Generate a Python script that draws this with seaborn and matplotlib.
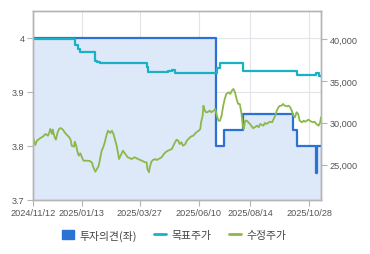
import numpy as np
import pandas as pd
import matplotlib
matplotlib.use('Agg')
import matplotlib.pyplot as plt
import matplotlib.dates as mdates
from matplotlib.patches import Patch
from matplotlib.lines import Line2D
from matplotlib.ticker import FuncFormatter
import seaborn as sns

start_date = '2024-11-12'
end_day = 365

opinion_days = [0, 232, 242, 266, 329, 335, 359, 360, 365]
opinion_vals = [4.0, 3.8, 3.83, 3.86, 3.83, 3.8, 3.75, 3.8, 3.8]

target_days = [0, 53, 57, 60, 79, 81, 85, 144, 146, 171, 176, 180, 233, 237, 266, 334, 359, 363, 365]
target_vals = [40000, 39320, 38800, 38480, 37410, 37220, 37100, 36620, 36020, 36140, 36340, 35900,
               36500, 37100, 36220, 35700, 35900, 35620, 35620]

price_days = [0, 3, 5, 9, 13, 16, 19, 21, 22, 24, 25, 27, 29, 31, 33, 35, 38, 40, 43, 46, 48, 49, 52, 53,
              55, 56, 58, 60, 62, 64, 68, 72, 75, 76, 79, 81, 83, 85, 87, 89, 91, 93, 95, 98, 100, 102,
              104, 106, 108, 109, 111, 114, 117, 120, 123, 125, 129, 133, 138, 142, 144, 145, 147, 148,
              150, 152, 155, 157, 159, 161, 163, 165, 167, 169, 171, 176, 178, 180, 182, 184, 186, 188,
              190, 193, 195, 197, 199, 201, 203, 205, 207, 210, 212, 213, 215, 216, 217, 219, 221, 224,
              226, 229, 231, 233, 235, 237, 239, 241, 243, 245, 248, 250, 252, 254, 256, 258, 260, 262,
              264, 266, 267, 269, 271, 273, 275, 279, 281, 284, 286, 288, 292, 294, 296, 300, 303, 305,
              307, 309, 311, 313, 315, 317, 319, 322, 324, 326, 328, 330, 332, 334, 336, 338, 341, 343,
              345, 347, 349, 351, 353, 355, 357, 359, 362, 364, 365]
price_vals = [28270, 27350, 27870, 28150, 28390, 28670, 28460, 28940, 29260, 28670, 29180, 28390, 27990,
              28790, 29260, 29380, 29180, 28870, 28550, 28270, 27870, 27270, 27150, 27750, 27200, 26670,
              26080, 26360, 25890, 25480, 25480, 25450, 25210, 24810, 24170, 24490, 24810, 25680, 26670,
              27080, 27680, 28460, 29060, 28790, 29060, 28670, 27990, 27270, 26280, 25680, 26080, 26670,
              26280, 25890, 25770, 25680, 25890, 25680, 25480, 25290, 25290, 24490, 24100, 24690, 25360,
              25560, 25680, 25560, 25680, 25770, 25890, 26160, 26400, 26560, 26670, 26880, 27270, 27680,
              27990, 27870, 27470, 27680, 27270, 27470, 27870, 28070, 28270, 28390, 28460, 28670, 28870,
              29060, 29260, 30060, 30850, 32040, 31650, 31260, 31260, 31450, 31260, 31450, 31650, 30850,
              30250, 30250, 30850, 32000, 32840, 33440, 33640, 33440, 33830, 34040, 33640, 32840, 32250,
              32250, 31260, 29660, 29260, 30250, 30250, 30060, 29860, 29350, 29470, 29660, 29470, 29860,
              29660, 29980, 29860, 30130, 30060, 30460, 30850, 31450, 31850, 32040, 32040, 32250, 32040,
              31970, 32040, 31850, 31450, 30850, 30660, 31260, 31050, 30250, 30060, 30250, 30130, 30250,
              30370, 30250, 30130, 30060, 30130, 29860, 29660, 30060, 30660]

x_tick_dates = ['2024-11-12', '2025-01-13', '2025-03-27', '2025-06-10', '2025-08-14', '2025-10-28']
left_ticks = [3.7, 3.8, 3.9, 4.0]
left_labels = ['3.7', '3.8', '3.9', '4']
right_ticks = [25000, 30000, 35000, 40000]
legend_labels = ['투자의견(좌)', '목표주가', '수정주가']

start = pd.Timestamp(start_date)
df_op = pd.DataFrame({'date': start + pd.to_timedelta(opinion_days, unit='D'), 'v': opinion_vals})
df_tg = pd.DataFrame({'date': start + pd.to_timedelta(target_days, unit='D'), 'v': target_vals})
df_pr = pd.DataFrame({'date': start + pd.to_timedelta(price_days, unit='D'), 'v': price_vals})

sns.set_style('white')
plt.rcParams['font.family'] = ['Noto Sans CJK KR', 'DejaVu Sans']

C_BLUE = '#2b72d4'
C_FILL = '#dde8f8'
C_TEAL = '#19b1c6'
C_GREEN = '#8cb84a'
C_GRID = '#e2e4e8'
C_SPINE = '#b4b4b4'
C_TEXT = '#555555'

fig = plt.figure(figsize=(3.7, 2.55), dpi=100)
ax = fig.add_axes([33 / 370, 54 / 255, 288 / 370, 189 / 255])
ax.set_facecolor('white')

ax.fill_between(df_op['date'], df_op['v'], 3.7, step='post', color=C_FILL, lw=0, zorder=1)
sns.lineplot(data=df_op, x='date', y='v', ax=ax, color=C_BLUE, lw=1.6,
             drawstyle='steps-post', zorder=3)

ax.set_ylim(3.7, 4.05)
ax.set_xlim(start, start + pd.Timedelta(days=end_day))
ax.set_yticks(left_ticks)
ax.set_yticklabels(left_labels)
ax.set_xticks(pd.to_datetime(x_tick_dates))
ax.xaxis.set_major_formatter(mdates.DateFormatter('%Y/%m/%d'))
ax.grid(True, color=C_GRID, lw=0.8, zorder=0)
ax.set_axisbelow(True)
ax.set_xlabel('')
ax.set_ylabel('')

ax2 = ax.twinx()
sns.lineplot(data=df_tg, x='date', y='v', ax=ax2, color=C_TEAL, lw=1.6, drawstyle='steps-post')
sns.lineplot(data=df_pr, x='date', y='v', ax=ax2, color=C_GREEN, lw=1.3)
ax2.set_ylim(20790, 43340)
ax2.set_yticks(right_ticks)
ax2.yaxis.set_major_formatter(FuncFormatter(lambda v, p: f'{int(v):,}'))
ax2.set_xlabel('')
ax2.set_ylabel('')
ax2.set_xlim(start, start + pd.Timedelta(days=end_day))

for a in (ax, ax2):
    for s in a.spines.values():
        s.set_color(C_SPINE)
        s.set_linewidth(1.0)
    a.tick_params(colors=C_SPINE, labelcolor=C_TEXT, labelsize=6.6, length=4, width=0.8,
                  direction='out', pad=2)
    for lbl in a.get_xticklabels() + a.get_yticklabels():
        lbl.set_family(['Liberation Sans', 'DejaVu Sans'])
ax.tick_params(axis='y', left=True)
ax.tick_params(axis='x', bottom=True)
ax2.tick_params(axis='y', right=True)

handles = [Patch(facecolor=C_BLUE, edgecolor=C_BLUE),
           Line2D([0], [0], color=C_TEAL, lw=2),
           Line2D([0], [0], color=C_GREEN, lw=2)]
fig.legend(handles, legend_labels, loc='center', bbox_to_anchor=(0.47, 19 / 255), ncol=3,
           frameon=False, fontsize=7.8, handlelength=1.1, handleheight=0.9, handletextpad=0.5,
           columnspacing=1.6, labelcolor='#444444')

fig.savefig('out.png', dpi=100, facecolor='white')
